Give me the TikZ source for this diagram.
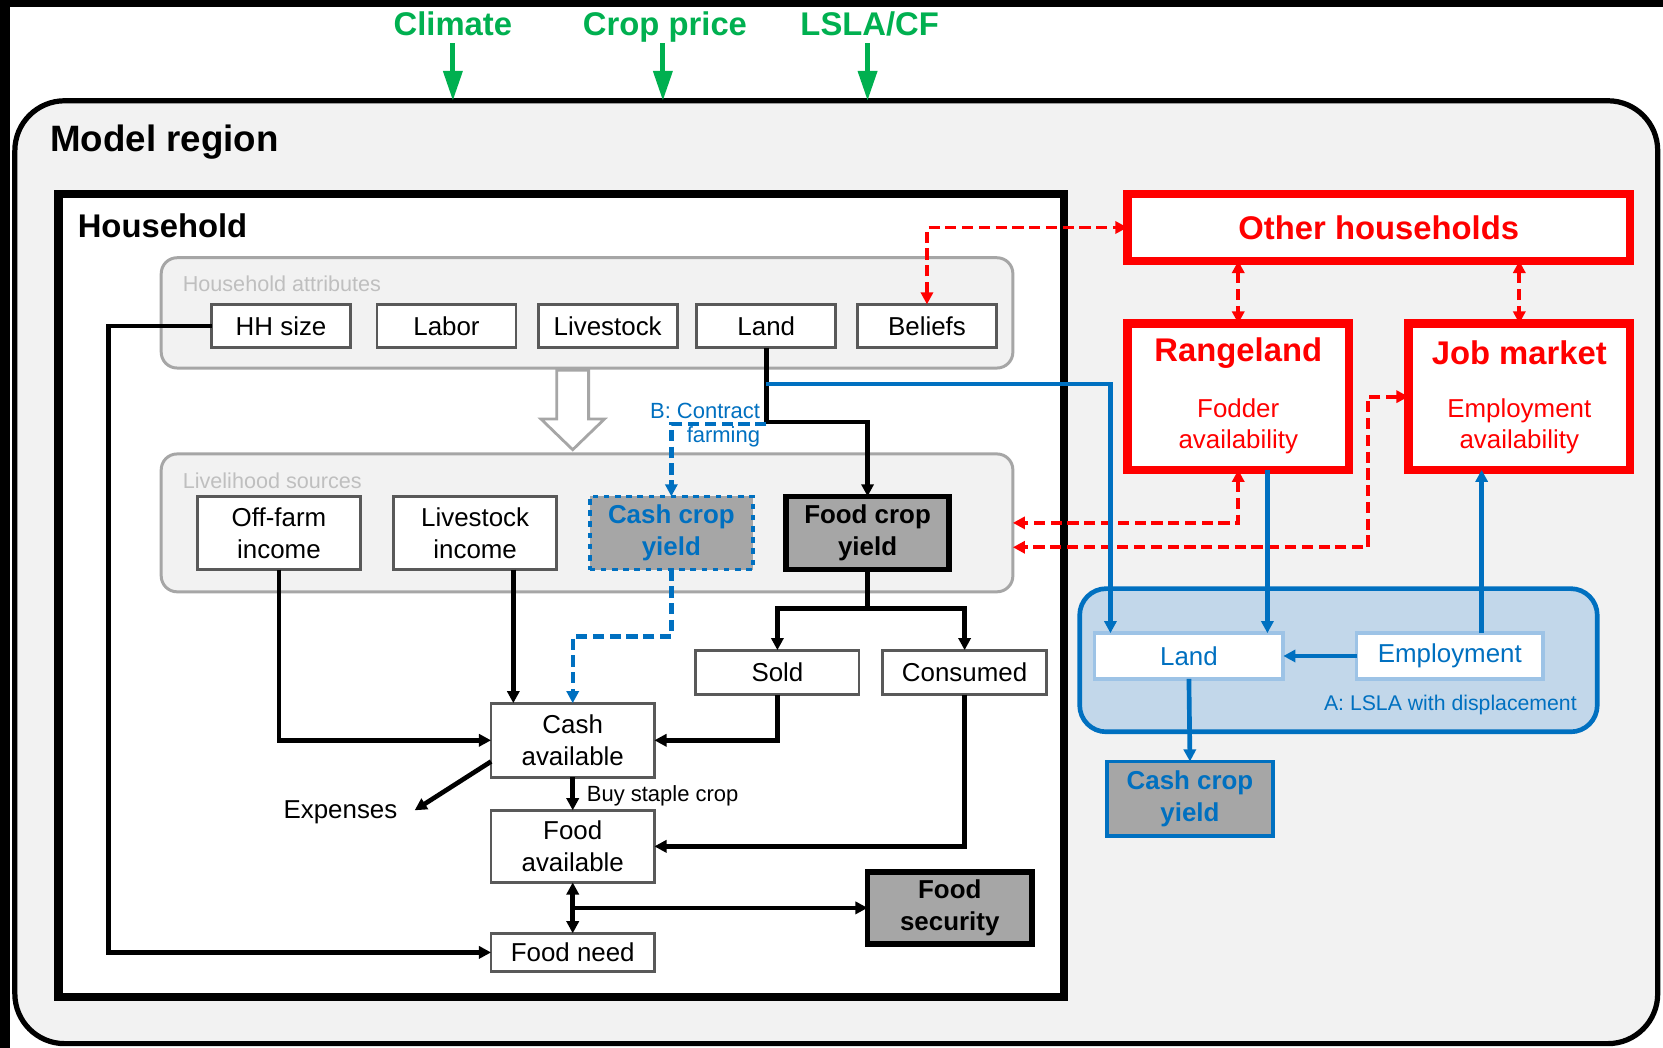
\documentclass[tikz,border=0pt]{standalone}
\usepackage{fontspec}
\setmainfont{Liberation Sans}
\usetikzlibrary{arrows.meta,calc}

\definecolor{grn}{HTML}{00B050}
\definecolor{blu}{HTML}{0070C0}
\definecolor{rd}{HTML}{FF0000}
\definecolor{panel}{HTML}{F2F2F2}
\definecolor{edge}{HTML}{A6A6A6}
\definecolor{shade}{HTML}{A6A6A6}
\definecolor{paleblue}{HTML}{C2D7EA}
\definecolor{lightblue}{HTML}{9DC3E6}
\definecolor{boxedge}{HTML}{595959}
\definecolor{grouptext}{HTML}{BFBFBF}

\newcommand\fsz[2]{\fontsize{#1}{#2}\selectfont}

\begin{document}
\begin{tikzpicture}[
  x=0.02cm, y=-0.02cm,
  >={Triangle[length=6.5pt,width=6.5pt]},
  sz/.style 2 args={minimum width=#1*0.02cm, minimum height=#2*0.02cm},
  title/.style={font=\fsz{17.6pt}{20pt}\bfseries, inner sep=0},
  regionbox/.style={draw=black, line width=2.8pt, fill=panel, rounded corners=0.94cm, inner sep=0, outer sep=0},
  hhbox/.style={draw=black, line width=4.5pt, fill=white, inner sep=0, outer sep=0},
  group/.style={draw=edge, line width=1.6pt, fill=panel, rounded corners=0.3cm, inner sep=0, outer sep=0},
  grouplbl/.style={font=\fsz{11.6pt}{14pt}, text=grouptext, inner sep=0},
  attr/.style={draw=boxedge, line width=1.5pt, fill=white, align=center, font=\fsz{13.9pt}{17pt}, inner sep=0, outer sep=0},
  flow/.style={attr},
  keybox/.style={draw=black, line width=3pt, fill=shade, align=center, font=\fsz{13.9pt}{17pt}\bfseries, inner sep=0, outer sep=0},
  cashbox/.style={draw=blu, dashed, line width=2pt, fill=shade, text=blu, align=center, font=\fsz{13.9pt}{17pt}\bfseries, inner sep=0, outer sep=0},
  cashboxtwo/.style={draw=blu, line width=2pt, fill=shade, text=blu, align=center, font=\fsz{13.9pt}{17pt}\bfseries, inner sep=0, outer sep=0},
  plaintext/.style={font=\fsz{13.9pt}{17pt}, inner sep=0},
  smalltext/.style={font=\fsz{11.8pt}{14pt}, inner sep=0},
  driver/.style={font=\fsz{17.6pt}{20pt}\bfseries, text=grn, inner sep=0, anchor=base},
  redbox/.style={draw=rd, line width=4.5pt, fill=white, inner sep=0, outer sep=0, text=rd, font=\fsz{17.6pt}{20pt}\bfseries},
  redtitle/.style={text=rd, font=\fsz{17.6pt}{20pt}\bfseries, inner sep=0},
  redsub/.style={text=rd, align=center, font=\fsz{13.9pt}{17pt}, inner sep=0},
  lslagroup/.style={draw=blu, line width=2.5pt, fill=paleblue, rounded corners=0.5cm, inner sep=0, outer sep=0},
  bluebox/.style={draw=lightblue, line width=2pt, fill=white, text=blu, font=\fsz{13.9pt}{17pt}, inner sep=0, outer sep=0},
  bluesmall/.style={text=blu, font=\fsz{11.4pt}{14pt}, inner sep=0},
  bk/.style={draw=black, line width=2.5pt},
  bl/.style={draw=blu, line width=2.5pt},
  bld/.style={draw=blu, line width=2.3pt, dash pattern=on 6pt off 3pt},
  rdd/.style={draw=rd, line width=2.1pt, dash pattern=on 6pt off 3pt},
  gline/.style={draw=grn, line width=2.6pt, -{Triangle[length=16pt,width=10pt]}}
]
\useasboundingbox (0,0) rectangle (1568,988);
\fill[white] (0,0) rectangle (1568,988);
\fill[black] (0,0) rectangle (1568,7);
\fill[black] (0,0) rectangle (9,988);

% model region
\node[regionbox, sz={1549}{889}] (region) at (788.5,539.5) {};
\node[title, font=\fsz{19.7pt}{22pt}\bfseries, anchor=west] (regionlbl) at (47,134) {Model region};

% external drivers
\node[driver] (climate) at (427,33) {Climate};
\node[driver] (price) at (627,33) {Crop price};
\node[driver] (lsla) at (820,33) {LSLA/CF};
\draw[gline] ($(climate.base)+(0,8)$) -- (climate.base |- region.north);
\draw[gline] ($(price.base)+(-2,8)$) -- ($(price.base |- region.north)+(-2,0)$);
\draw[gline] ($(lsla.base)+(-2,8)$) -- ($(lsla.base |- region.north)+(-2,0)$);

% household
\node[hhbox, sz={948}{757}] (hh) at (529,561.5) {};
\node[title, anchor=west] (hhlbl) at (73,213) {Household};

\node[group, sz={803}{104}] (attrgroup) at (553.5,295) {};
\node[grouplbl, anchor=west] (attrlbl) at (172,268) {Household attributes};
\node[group, sz={803}{130}] (livgroup) at (553.5,493) {};
\node[grouplbl, anchor=west] (livlbl) at (172,453) {Livelihood sources};

% attributes lead to livelihood sources
\draw[edge, fill=white, line width=1.5pt] (525,349) -- (555,349) -- (555,395) -- (570,395)
  -- (540,424) -- (510,395) -- (525,395) -- cycle;

\node[attr, sz={131}{41}] (hhsize) at (265,307.5) {HH size};
\node[attr, sz={131}{41}] (labor) at (421,307.5) {Labor};
\node[attr, sz={131}{41}] (livestock) at (573,307.5) {Livestock};
\node[attr, sz={131}{41}] (land) at (722.5,307.5) {Land};
\node[attr, sz={131}{41}] (beliefs) at (874,307.5) {Beliefs};

\node[attr, sz={154}{69}] (offfarm) at (263,502.5) {Off-farm\\income};
\node[attr, sz={154}{69}] (livinc) at (448,502.5) {Livestock\\income};
\node[cashbox, sz={154}{69}] (cashcrop) at (633,502.5) {Cash crop\\yield};
\node[keybox, sz={154}{69}] (foodcrop) at (818,502.5) {Food crop\\yield};

\node[flow, sz={154}{42}] (sold) at (733,634) {Sold};
\node[flow, sz={155}{42}] (consumed) at (909.5,634) {Consumed};
\node[flow, sz={154}{70}] (cashavail) at (540,698) {Cash\\available};
\node[flow, sz={154}{68}] (foodavail) at (540,798) {Food\\available};
\node[flow, sz={154}{36}] (foodneed) at (540,898) {Food need};
\node[keybox, sz={155}{68}] (foodsec) at (895.5,856) {Food\\security};
\node[plaintext] (expenses) at (321,766) {Expenses};
\node[smalltext, anchor=west] (buylbl) at (553,750) {Buy staple crop};

\node[smalltext, text=blu, anchor=east] (cflbl) at (717,387) {B: Contract};
\node[smalltext, text=blu, anchor=east] (cflbltwo) at (717,412) {farming};

% other households and markets
\node[redbox, sz={474}{63}] (otherhh) at (1300,214.5) {Other households};
\node[redbox, sz={209}{138}] (rangeland) at (1167.5,374) {};
\node[redtitle] (rangelbl) at (1167.5,333) {Rangeland};
\node[redsub] (fodder) at (1167.5,402) {Fodder\\availability};
\node[redbox, sz={209}{138}] (jobmarket) at (1432.5,374) {};
\node[redtitle] (joblbl) at (1432.5,333) {Job market};
\node[redsub] (employav) at (1432.5,402) {Employment\\availability};

% LSLA scenario
\node[lslagroup, sz={488}{135}] (lslagroup) at (1262,622.5) {};
\node[bluebox, sz={178}{43}] (bland) at (1121,618.5) {Land};
\node[bluebox, sz={176}{43}] (employment) at (1367,618.5) {Employment};
\node[bluesmall, anchor=east] (lslalbl) at (1487,665) {A: LSLA with displacement};
\node[cashboxtwo, sz={156}{70}] (cashcroptwo) at (1122,753) {Cash crop\\yield};

% household flows
\draw[bk,->] (hhsize.west) -- ++(-97,0) |- (foodneed.west);
\draw[bk,->] (land.south) -- ++(0,70) -| (foodcrop.north);
\draw[bld,->] ($(land.south)+(0,72)$) -| (cashcrop.north);
\draw[bk,->] (offfarm.south) |- (cashavail.west);
\coordinate (cain) at ($(cashavail.north west)+(21,0)$);
\draw[bk,->] (livinc.south -| cain) -- (cain);
\draw[bld,->] (cashcrop.south) -- ++(0,63) -| (cashavail.north);
\draw[bk] (foodcrop.south) -- ++(0,37) coordinate (split);
\draw[bk,->] (split) -| (sold.north);
\draw[bk,->] (split) -| (consumed.north);
\draw[bk,->] (sold.south) |- (cashavail.east);
\draw[bk,->] (consumed.south) |- (foodavail.east);
\draw[bk,->] (cashavail.south) -- (foodavail.north);
\draw[bk,->] ($(cashavail.west)+(0,20)$) -- ($(expenses.east)+(16,-2)$);
\draw[bk,<->] (foodavail.south) -- (foodneed.north);
\draw[bk,->] ($(foodavail.south)!0.5!(foodneed.north)$) -- (foodsec.west);

% links with other households
\draw[rdd,<->] (beliefs.north) |- (otherhh.west);
\draw[rdd,<->] (otherhh.south -| rangeland.north) -- (rangeland.north);
\draw[rdd,<->] (otherhh.south -| jobmarket.north) -- (jobmarket.north);
\draw[rdd,<->] (rangeland.south) |- (livgroup.east);
\draw[rdd,<->] (jobmarket.west) -- ++(-38,0) |- ($(livgroup.east)+(0,23)$);

% land acquisition links
\draw[bl,->] ($(land.south)+(0,34)$) -| ($(bland.north west)+(15,0)$);
\coordinate (rbin) at ($(bland.north east)+(-15,0)$);
\draw[bl,->] (rangeland.south -| rbin) -- (rbin);
\coordinate (jbout) at ($(employment.north)+(30,0)$);
\draw[bl,->] (jbout) -- (jbout |- jobmarket.south);
\draw[bl,->] (employment.west) -- (bland.east);
\draw[bl,->] (bland.south) -- (cashcroptwo.north);
\end{tikzpicture}
\end{document}
